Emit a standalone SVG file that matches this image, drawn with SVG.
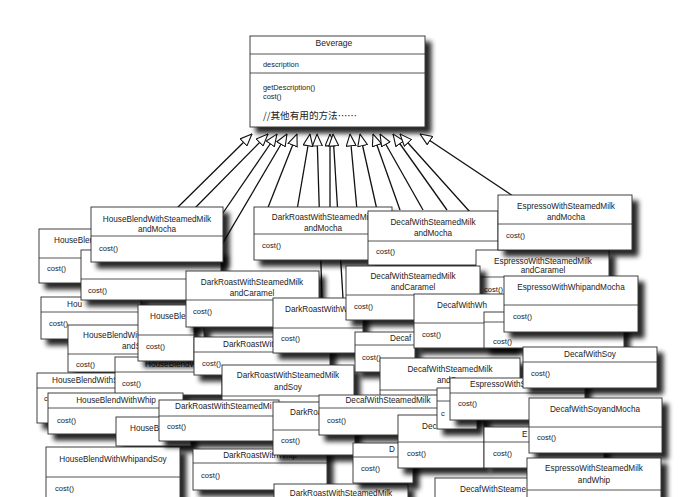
<svg xmlns="http://www.w3.org/2000/svg" width="697" height="497" viewBox="0 0 697 497">
<defs>
<style>
.bx{fill:#fff;stroke:#2a2a2a;stroke-width:0.9;filter:url(#sh)}
.dv{stroke:#2a2a2a;stroke-width:0.8}
text{font-family:"Liberation Sans",Arial,sans-serif;fill:#222}
.t{font-size:8.2px;text-anchor:middle}
.s{font-size:8.2px}
.c{font-size:7.6px}
.m{font-size:7.4px}
.cn{font-family:"Noto Sans CJK SC","Liberation Sans",sans-serif;font-size:9.6px}
.ln{stroke:#111;stroke-width:1.3;fill:none;marker-end:url(#tri)}
</style>
<filter id="sh" x="-10%" y="-20%" width="140%" height="170%">
<feGaussianBlur in="SourceAlpha" stdDeviation="2.6"/>
<feOffset dx="6" dy="6" result="o"/>
<feComponentTransfer in="o" result="s"><feFuncA type="linear" slope="0.85"/></feComponentTransfer>
<feMerge><feMergeNode in="s"/><feMergeNode in="SourceGraphic"/></feMerge>
</filter>
<marker id="tri" viewBox="0 0 13 11" refX="12.5" refY="5.5" markerWidth="13" markerHeight="11" markerUnits="userSpaceOnUse" orient="auto">
<path d="M0.6,0.6 L12.4,5.5 L0.6,10.4 Z" fill="#fff" stroke="#111" stroke-width="1.1"/>
</marker>
</defs>
<rect width="697" height="497" fill="#fff"/>

<!-- superclass -->
<g id="beverage">
<rect class="bx" x="250" y="36" width="175" height="91"/>
<line class="dv" x1="250" y1="54" x2="425" y2="54"/>
<line class="dv" x1="250" y1="73" x2="425" y2="73"/>
<text class="t" x="334" y="46" style="font-size:8.6px">Beverage</text>
<text class="m" x="263" y="67">description</text>
<text class="m" x="263" y="89.5">getDescription()</text>
<text class="m" x="263" y="99">cost()</text>
<text class="cn" x="263" y="119">//其他有用的方法……</text>
</g>

<!-- inheritance arrows -->
<g id="connectors">
<path class="ln" d="M175,210 L252,134"/>
<path class="ln" d="M193,210 L268,134"/>
<path class="ln" d="M212,229 L277,134"/>
<path class="ln" d="M214,258 L287,134"/>
<path class="ln" d="M267,210 L297,134"/>
<path class="ln" d="M297,210 L310,134"/>
<path class="ln" d="M322,298 L317,134"/>
<path class="ln" d="M330,210 L330,134"/>
<path class="ln" d="M343,298 L333,134"/>
<path class="ln" d="M357,210 L350,134"/>
<path class="ln" d="M377,210 L360,134"/>
<path class="ln" d="M400,210 L373,134"/>
<path class="ln" d="M423,210 L380,134"/>
<path class="ln" d="M447,210 L393,134"/>
<path class="ln" d="M470,212 L400,134"/>
<path class="ln" d="M513,196 L420,134"/>
</g>

<!-- subclasses, back to front -->
<g id="hb-a">
<rect class="bx" x="39" y="229" width="130" height="54"/>
<line class="dv" x1="39" y1="258" x2="169" y2="258"/>
<text class="s" x="54" y="243">HouseBlen</text>
<text class="c" x="47" y="271">cost()</text>
</g>
<g id="hb-c">
<rect class="bx" x="41" y="297" width="100" height="42"/>
<line class="dv" x1="41" y1="312" x2="141" y2="312"/>
<text class="s" x="67" y="307">Hou</text>
<text class="c" x="49" y="326">cost()</text>
</g>
<g id="hb-b">
<rect class="bx" x="81" y="250" width="140" height="50"/>
<line class="dv" x1="81" y1="279" x2="221" y2="279"/>
<text class="c" x="88" y="293">cost()</text>
</g>
<g id="hb-milk-mocha">
<rect class="bx" x="91" y="207" width="132" height="55"/>
<line class="dv" x1="91" y1="236" x2="223" y2="236"/>
<text class="t" x="157" y="222">HouseBlendWithSteamedMilk</text>
<text class="t" x="157" y="232">andMocha</text>
<text class="c" x="99" y="251">cost()</text>
</g>
<g id="hb-milk-soy">
<rect class="bx" x="68" y="325" width="136" height="47"/>
<line class="dv" x1="68" y1="354" x2="204" y2="354"/>
<text class="s" x="83" y="338">HouseBlendWith</text>
<text class="s" x="122" y="349">andS</text>
<text class="c" x="76" y="367">cost()</text>
</g>
<g id="hb-soy">
<rect class="bx" x="37" y="373" width="110" height="50"/>
<line class="dv" x1="37" y1="388" x2="147" y2="388"/>
<text class="s" x="52" y="383">HouseBlendWithS</text>
<text class="c" x="44" y="401">cost()</text>
</g>
<g id="hb-mocha">
<rect class="bx" x="115" y="357" width="107" height="38"/>
<line class="dv" x1="115" y1="372" x2="222" y2="372"/>
<text class="s" x="145" y="367">HouseBlendW</text>
<text class="c" x="122" y="386">cost()</text>
</g>
<g id="hb-d">
<rect class="bx" x="138" y="305" width="56" height="56"/>
<line class="dv" x1="138" y1="335" x2="194" y2="335"/>
<text class="s" x="150" y="319">HouseBle</text>
<text class="c" x="146" y="349">cost()</text>
</g>
<g id="hb-whip">
<rect class="bx" x="48" y="393" width="135" height="41"/>
<line class="dv" x1="48" y1="408" x2="183" y2="408"/>
<text class="t" x="116" y="403">HouseBlendWithWhip</text>
<text class="c" x="57" y="423">cost()</text>
</g>
<g id="hb-e">
<rect class="bx" x="116" y="417" width="75" height="29"/>
<text class="s" x="130" y="431">HouseB</text>
</g>
<g id="hb-whip-soy">
<rect class="bx" x="46" y="447" width="134" height="60"/>
<line class="dv" x1="46" y1="477" x2="180" y2="477"/>
<text class="t" x="113" y="462">HouseBlendWithWhipandSoy</text>
<text class="c" x="55" y="491">cost()</text>
</g>

<g id="dr-milk-mocha">
<rect class="bx" x="254" y="207" width="138" height="53"/>
<line class="dv" x1="254" y1="234" x2="392" y2="234"/>
<text class="t" x="323" y="220">DarkRoastWithSteamedMilk</text>
<text class="t" x="323" y="231">andMocha</text>
<text class="c" x="262" y="248">cost()</text>
</g>
<g id="dr-milk-caramel">
<rect class="bx" x="186" y="271" width="133" height="56"/>
<line class="dv" x1="186" y1="300" x2="319" y2="300"/>
<text class="t" x="252" y="285">DarkRoastWithSteamedMilk</text>
<text class="t" x="252" y="296">andCaramel</text>
<text class="c" x="193" y="314">cost()</text>
</g>
<g id="dr-soy">
<rect class="bx" x="194" y="337" width="136" height="38"/>
<line class="dv" x1="194" y1="352" x2="330" y2="352"/>
<text class="s" x="223" y="347">DarkRoastWit</text>
<text class="c" x="202" y="366">cost()</text>
</g>
<g id="dr-whip">
<rect class="bx" x="273" y="298" width="90" height="55"/>
<line class="dv" x1="273" y1="328" x2="363" y2="328"/>
<text class="s" x="285" y="312">DarkRoastWithW</text>
<text class="c" x="281" y="341">cost()</text>
</g>
<g id="dr-milk-soy">
<rect class="bx" x="222" y="365" width="132" height="56"/>
<line class="dv" x1="222" y1="396" x2="354" y2="396"/>
<text class="t" x="288" y="378">DarkRoastWithSteamedMilk</text>
<text class="t" x="288" y="390">andSoy</text>
</g>
<g id="dr-milk">
<rect class="bx" x="159" y="400" width="120" height="41"/>
<line class="dv" x1="159" y1="416" x2="279" y2="416"/>
<text class="s" x="175" y="409">DarkRoastWithSteamedMi</text>
<text class="c" x="167" y="429">cost()</text>
</g>
<g id="dr-whip-b">
<rect class="bx" x="193" y="449" width="134" height="41"/>
<line class="dv" x1="193" y1="463" x2="327" y2="463"/>
<text class="t" x="260" y="458">DarkRoastWithWhip</text>
<text class="c" x="201" y="478">cost()</text>
</g>
<g id="dr-mocha">
<rect class="bx" x="273" y="402" width="82" height="53"/>
<line class="dv" x1="273" y1="430" x2="355" y2="430"/>
<text class="s" x="290" y="415">DarkRoa</text>
<text class="c" x="281" y="443">cost()</text>
</g>
<g id="dr-milk-b">
<rect class="bx" x="274" y="484" width="134" height="20"/>
<text class="t" x="341" y="496">DarkRoastWithSteamedMilk</text>
</g>

<g id="decaf-milk-mocha">
<rect class="bx" x="368" y="211" width="130" height="54"/>
<line class="dv" x1="368" y1="241" x2="498" y2="241"/>
<text class="t" x="433" y="225">DecafWithSteamedMilk</text>
<text class="t" x="433" y="236">andMocha</text>
<text class="c" x="376" y="254">cost()</text>
</g>
<g id="espresso-milk-caramel">
<rect class="bx" x="476" y="250" width="133" height="55"/>
<line class="dv" x1="476" y1="277" x2="609" y2="277"/>
<text class="t" x="543" y="264">EspressoWithSteamedMilk</text>
<text class="t" x="543" y="273">andCaramel</text>
<text class="c" x="484" y="292">cost()</text>
</g>
<g id="espresso-milk-mocha">
<rect class="bx" x="498" y="195" width="134" height="55"/>
<line class="dv" x1="498" y1="224" x2="632" y2="224"/>
<text class="t" x="566" y="209">EspressoWithSteamedMilk</text>
<text class="t" x="566" y="220">andMocha</text>
<text class="c" x="506" y="238">cost()</text>
</g>
<g id="decaf-milk-caramel">
<rect class="bx" x="346" y="266" width="134" height="54"/>
<line class="dv" x1="346" y1="295" x2="480" y2="295"/>
<text class="t" x="413" y="279">DecafWithSteamedMilk</text>
<text class="t" x="413" y="290">andCaramel</text>
<text class="c" x="354" y="309">cost()</text>
</g>
<g id="decaf-whip">
<rect class="bx" x="355" y="332" width="60" height="40"/>
<line class="dv" x1="355" y1="345" x2="415" y2="345"/>
<text class="s" x="390" y="341">Decaf</text>
<text class="c" x="362" y="360">cost()</text>
</g>
<g id="decaf-whip-mocha">
<rect class="bx" x="414" y="294" width="100" height="54"/>
<line class="dv" x1="414" y1="323" x2="514" y2="323"/>
<text class="s" x="437" y="308">DecafWithWh</text>
<text class="c" x="422" y="337">cost()</text>
</g>
<g id="decaf-milk-soy">
<rect class="bx" x="380" y="358" width="140" height="50"/>
<line class="dv" x1="380" y1="390" x2="520" y2="390"/>
<text class="t" x="450" y="372">DecafWithSteamedMilk</text>
<text class="s" x="437" y="383">andS</text>
</g>
<g id="decaf-milk">
<rect class="bx" x="319" y="395" width="138" height="40"/>
<line class="dv" x1="319" y1="408" x2="457" y2="408"/>
<text class="t" x="388" y="403">DecafWithSteamedMilk</text>
<text class="c" x="327" y="423">cost()</text>
</g>
<g id="decaf-soy-b">
<rect class="bx" x="353" y="443" width="60" height="40"/>
<line class="dv" x1="353" y1="457" x2="413" y2="457"/>
<text class="s" x="389" y="452">D</text>
<text class="c" x="361" y="471">cost()</text>
</g>
<g id="decaf-soy-c">
<rect class="bx" x="398" y="415" width="86" height="53"/>
<line class="dv" x1="398" y1="442" x2="484" y2="442"/>
<text class="s" x="422" y="429">Dec</text>
<text class="c" x="407" y="456">cost()</text>
</g>
<g id="espresso-a">
<rect class="bx" x="437" y="388" width="40" height="41"/>
<line class="dv" x1="437" y1="401" x2="477" y2="401"/>
<text class="c" x="441" y="416">c</text>
</g>
<g id="espresso-soy">
<rect class="bx" x="450" y="378" width="135" height="42"/>
<line class="dv" x1="450" y1="393" x2="585" y2="393"/>
<text class="s" x="470" y="387">EspressoWithS</text>
<text class="c" x="458" y="406">cost()</text>
</g>
<g id="espresso-b">
<rect class="bx" x="484" y="312" width="140" height="36"/>
<line class="dv" x1="484" y1="322" x2="624" y2="322"/>
<text class="c" x="493" y="344">cost()</text>
</g>
<g id="espresso-whip-mocha">
<rect class="bx" x="504" y="276" width="134" height="56"/>
<line class="dv" x1="504" y1="305" x2="638" y2="305"/>
<text class="t" x="571" y="290">EspressoWithWhipandMocha</text>
<text class="c" x="513" y="319">cost()</text>
</g>
<g id="decaf-soy">
<rect class="bx" x="523" y="347" width="134" height="41"/>
<line class="dv" x1="523" y1="362" x2="657" y2="362"/>
<text class="t" x="590" y="357">DecafWithSoy</text>
<text class="c" x="531" y="376">cost()</text>
</g>
<g id="espresso-whip">
<rect class="bx" x="484" y="427" width="120" height="41"/>
<line class="dv" x1="484" y1="442" x2="604" y2="442"/>
<text class="s" x="522" y="437">E</text>
<text class="c" x="493" y="456">cost()</text>
</g>
<g id="decaf-soy-mocha">
<rect class="bx" x="529" y="398" width="133" height="55"/>
<line class="dv" x1="529" y1="427" x2="662" y2="427"/>
<text class="t" x="595" y="412">DecafWithSoyandMocha</text>
<text class="c" x="537" y="440">cost()</text>
</g>
<g id="decaf-milk-b">
<rect class="bx" x="435" y="478" width="141" height="25"/>
<text class="s" x="460" y="492">DecafWithSteame</text>
</g>
<g id="espresso-milk-whip">
<rect class="bx" x="527" y="458" width="134" height="50"/>
<line class="dv" x1="527" y1="490" x2="661" y2="490"/>
<text class="t" x="594" y="471">EspressoWithSteamedMilk</text>
<text class="t" x="594" y="483">andWhip</text>
</g>
</svg>
